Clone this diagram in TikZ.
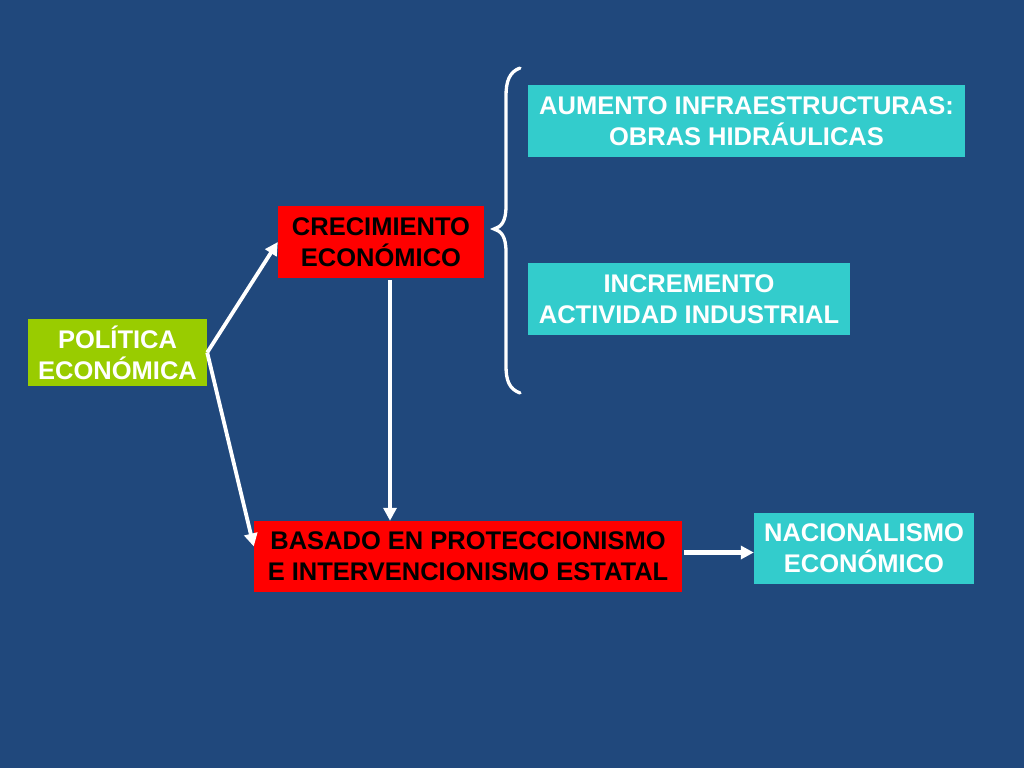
\documentclass[tikz,border=0pt]{standalone}
\usepackage{fontspec}
\setmainfont{Liberation Sans}
\usetikzlibrary{arrows.meta,calc}
\definecolor{bgblue}{RGB}{32,72,124}
\definecolor{boxgreen}{RGB}{153,204,0}
\definecolor{boxred}{RGB}{255,0,0}
\definecolor{boxcyan}{RGB}{51,204,204}
\tikzset{
  box/.style={inner sep=0pt, align=center, font=\fontsize{25.5}{31}\selectfont\bfseries},
  greenbox/.style={box, fill=boxgreen, text=white},
  redbox/.style={box, fill=boxred, text=black},
  cyanbox/.style={box, fill=boxcyan, text=white},
  arr/.style={draw=white, line width=3.8pt, -{Triangle[length=13pt,width=13pt]}},
  brace/.style={draw=white, line width=3.3pt, line cap=round}
}
\begin{document}
\begin{tikzpicture}[x=1pt,y=-1pt]
\fill[bgblue] (0,0) rectangle (1024,768);
\useasboundingbox (0,0) rectangle (1024,768);
\node[greenbox, minimum width=179pt, minimum height=67pt] (pol) at (117.5,352.5) {POLÍTICA\\ECONÓMICA};
\node[redbox, minimum width=206pt, minimum height=72pt] (crec) at (381,242) {CRECIMIENTO\\ECONÓMICO};
\node[cyanbox, minimum width=437pt, minimum height=72pt] (aum) at (746.5,121) {AUMENTO INFRAESTRUCTURAS:\\OBRAS HIDRÁULICAS};
\node[cyanbox, minimum width=322pt, minimum height=72pt] (inc) at (689,299) {INCREMENTO\\ACTIVIDAD INDUSTRIAL};
\node[redbox, minimum width=428pt, minimum height=71pt] (bas) at (468,556.5) {BASADO EN PROTECCIONISMO\\E INTERVENCIONISMO ESTATAL};
\node[cyanbox, minimum width=220pt, minimum height=71pt] (nac) at (864,548.5) {NACIONALISMO\\ECONÓMICO};
\draw[arr] (pol.east) -- (crec.west);
\draw[arr] (pol.east) -- ([yshift=10pt]bas.west);
\draw[arr] ([xshift=9pt,yshift=-2pt]crec.south) -- ([xshift=9pt]crec.south |- bas.north);
\draw[arr, line width=4.5pt] ([yshift=4pt,xshift=2pt]bas.east) -- ([yshift=4pt]bas.east -| nac.west);
\draw[brace] (520,68) .. controls (509,72) and (506,82) .. (506,96) -- (506,206) .. controls (506,222) and (501,227) .. (494,229) .. controls (501,231) and (506,236) .. (506,252) -- (506,366) .. controls (506,380) and (509,389) .. (520,393);
\end{tikzpicture}
\end{document}
